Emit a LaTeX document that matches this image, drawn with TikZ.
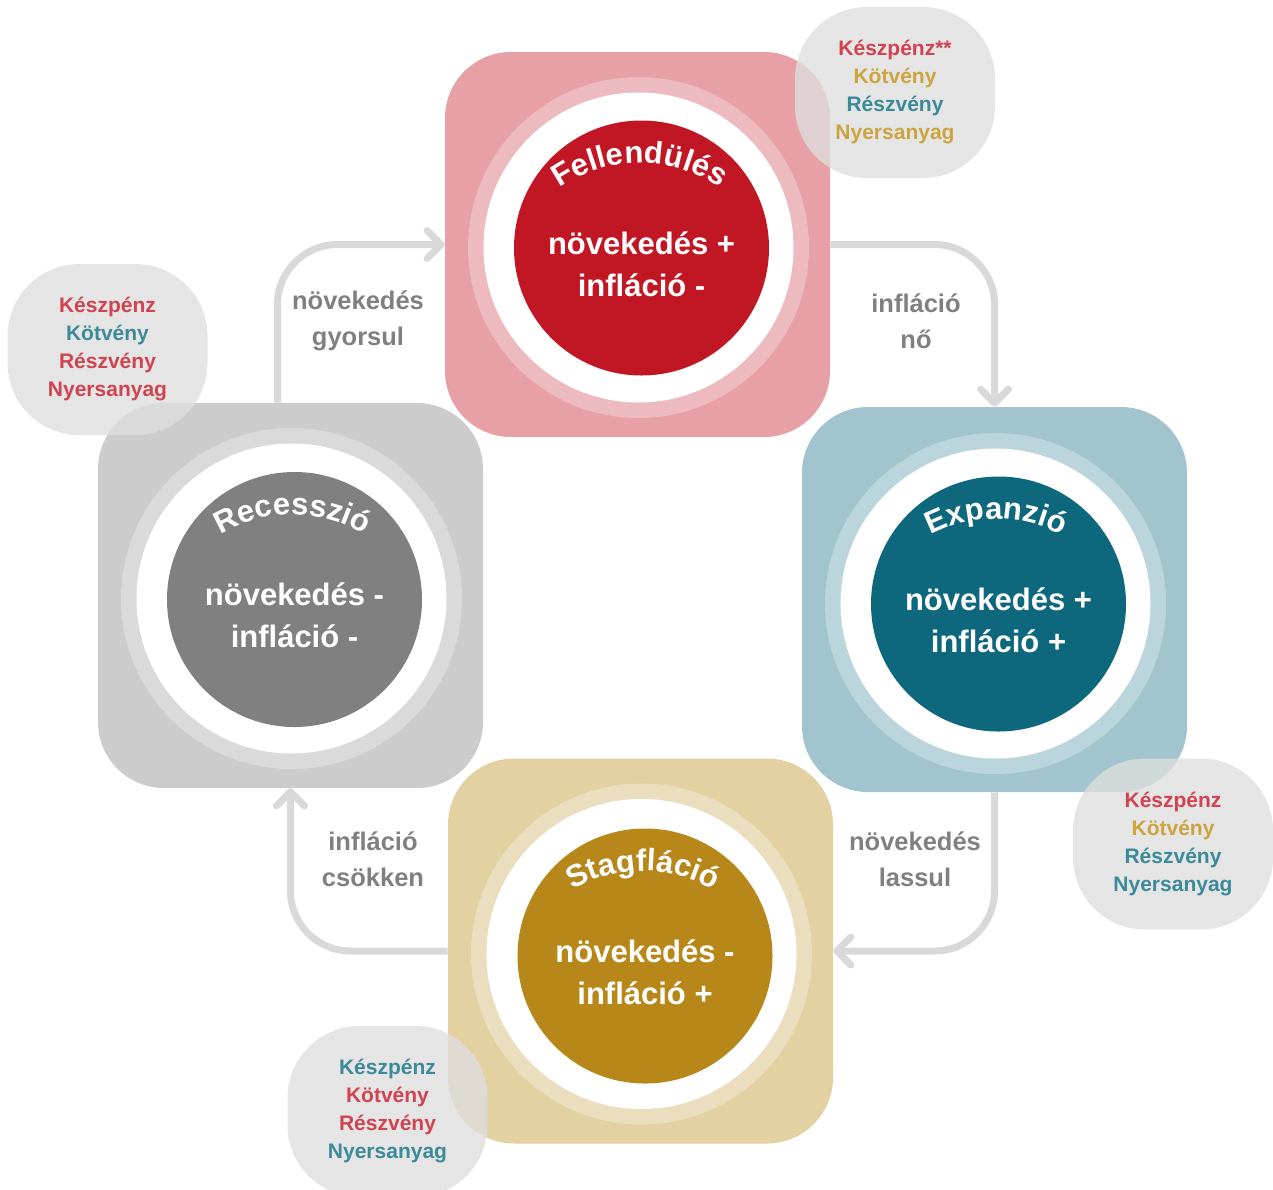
\documentclass[tikz,border=0pt]{standalone}
\usepackage{fontspec}
\setmainfont{Liberation Sans}
\usetikzlibrary{positioning, arrows.meta, decorations.text, calc}

\definecolor{FelDark}{RGB}{193,22,36}
\definecolor{FelLight}{RGB}{230,160,166}
\definecolor{FelRing}{RGB}{237,187,191}
\definecolor{ExpDark}{RGB}{14,104,125}
\definecolor{ExpLight}{RGB}{161,196,206}
\definecolor{ExpRing}{RGB}{187,213,220}
\definecolor{RecDark}{RGB}{128,128,128}
\definecolor{RecLight}{RGB}{204,204,204}
\definecolor{RecRing}{RGB}{218,218,218}
\definecolor{StaDark}{RGB}{183,136,25}
\definecolor{StaLight}{RGB}{227,209,162}
\definecolor{StaRing}{RGB}{234,222,191}
\definecolor{BlobGray}{RGB}{222,222,222}
\definecolor{ArrowGray}{RGB}{217,217,217}
\definecolor{LabelGray}{RGB}{128,128,128}
\definecolor{AssetRed}{RGB}{208,67,80}
\definecolor{AssetGold}{RGB}{204,164,62}
\definecolor{AssetTeal}{RGB}{58,138,152}

\newcommand{\corefont}{\fontsize{15.5pt}{21pt}\selectfont\bfseries}
\newcommand{\titlefont}{\fontsize{15.5pt}{18pt}\selectfont\bfseries}
\newcommand{\flowfont}{\fontsize{12.75pt}{18pt}\selectfont\bfseries}
\newcommand{\assetfont}{\fontsize{10.5pt}{14pt}\selectfont\bfseries}

\tikzset{
  phase box/.style={rectangle, rounded corners=33pt, minimum size=192.5pt, inner sep=0pt},
  halo/.style={circle, minimum size=170.5pt, inner sep=0pt},
  gap/.style={circle, fill=white, minimum size=155pt, inner sep=0pt},
  core/.style={circle, minimum size=127.5pt, inner sep=0pt},
  core text/.style={text=white, font=\corefont, align=center},
  flow/.style={line width=3.5pt, draw=ArrowGray, rounded corners=30pt, -{Straight Barb[length=7pt, width=14pt, round]}},
  flow label/.style={text=LabelGray, font=\flowfont, align=center},
  asset blob/.style={rectangle, rounded corners=36pt, fill=BlobGray, fill opacity=0.8, text opacity=1,
    minimum width=100pt, minimum height=85.5pt, inner sep=0pt, align=center, font=\assetfont},
  phase title/.style={decorate, decoration={text along path, text align=center, text color=white}}
}

\begin{document}
\begin{tikzpicture}[x=0.5pt, y=-0.5pt]
  \useasboundingbox (0,0) rectangle (1273,1189);

  % Fellendulés (top)
  \node[phase box, fill=FelLight] (fel) at (637.5,244.5) {};
  \node[halo, fill=FelRing] (fel-ring) at (638.5,247.5) {};
  \node[gap] (fel-gap) at (638.5,247.5) {};
  \node[core, fill=FelDark] (fel-core) at (641.5,248) {};
  \node[core text] (fel-txt) at ([yshift=-8pt]fel-core.center) {növekedés +\\infláció -};
  \coordinate (fel-arc) at (639.5,303);
  \path[phase title, decoration={text={|\titlefont|Fellendülés}}]
    ($(fel-arc)+(150:70pt)$) arc[start angle=150, end angle=30, radius=70pt];

  % Expanzió (right)
  \node[phase box, fill=ExpLight] (exp) at (994.5,599.5) {};
  \node[halo, fill=ExpRing] (exp-ring) at (995.5,603.5) {};
  \node[gap] (exp-gap) at (995.5,603.5) {};
  \node[core, fill=ExpDark] (exp-core) at (998.5,604) {};
  \node[core text] (exp-txt) at ([yshift=-8pt]exp-core.center) {növekedés +\\infláció +};
  \coordinate (exp-arc) at (996.5,659);
  \path[phase title, decoration={text={|\titlefont|Expanzió}}]
    ($(exp-arc)+(150:70pt)$) arc[start angle=150, end angle=30, radius=70pt];

  % Recesszió (left)
  \node[phase box, fill=RecLight] (rec) at (290.5,595.5) {};
  \node[halo, fill=RecRing] (rec-ring) at (291.5,598.5) {};
  \node[gap] (rec-gap) at (291.5,598.5) {};
  \node[core, fill=RecDark] (rec-core) at (294.5,599.5) {};
  \node[core text] (rec-txt) at ([yshift=-8pt]rec-core.center) {növekedés -\\infláció -};
  \coordinate (rec-arc) at (292.5,654.5);
  \path[phase title, decoration={text={|\titlefont|Recesszió}}]
    ($(rec-arc)+(150:70pt)$) arc[start angle=150, end angle=30, radius=70pt];

  % Stagfláció (bottom)
  \node[phase box, fill=StaLight] (sta) at (640.5,951) {};
  \node[halo, fill=StaRing] (sta-ring) at (641.5,954) {};
  \node[gap] (sta-gap) at (641.5,954) {};
  \node[core, fill=StaDark] (sta-core) at (645,956) {};
  \node[core text] (sta-txt) at ([yshift=-8pt]sta-core.center) {növekedés -\\infláció +};
  \coordinate (sta-arc) at (643,1011);
  \path[phase title, decoration={text={|\titlefont|Stagfláció}}]
    ($(sta-arc)+(150:70pt)$) arc[start angle=150, end angle=30, radius=70pt];

  % cycle arrows
  \draw[flow] ([xshift=-6.5pt]rec.north) |- (fel.west);
  \draw[flow] (fel.east) -| (exp.north);
  \draw[flow] (exp.south) |- (sta.east);
  \draw[flow] (sta.west) -| (rec.south);

  \node[flow label] (up-lbl) at (358,321) {növekedés\\gyorsul};
  \node[flow label] (right-lbl) at (916,321) {infláció\\nő};
  \node[flow label] (down-lbl) at (915,859) {növekedés\\lassul};
  \node[flow label] (left-lbl) at (373,859) {infláció\\csökken};

  % asset rankings
  \node[asset blob] (fel-assets) at (895,92.5) {\textcolor{AssetRed}{Készpénz**}\\\textcolor{AssetGold}{Kötvény}\\\textcolor{AssetTeal}{Részvény}\\\textcolor{AssetGold}{Nyersanyag}};
  \node[asset blob] (rec-assets) at (107.5,349.5) {\textcolor{AssetRed}{Készpénz}\\\textcolor{AssetTeal}{Kötvény}\\\textcolor{AssetRed}{Részvény}\\\textcolor{AssetRed}{Nyersanyag}};
  \node[asset blob] (exp-assets) at (1173,844) {\textcolor{AssetRed}{Készpénz}\\\textcolor{AssetGold}{Kötvény}\\\textcolor{AssetTeal}{Részvény}\\\textcolor{AssetTeal}{Nyersanyag}};
  \node[asset blob] (sta-assets) at (387.5,1111.5) {\textcolor{AssetTeal}{Készpénz}\\\textcolor{AssetRed}{Kötvény}\\\textcolor{AssetRed}{Részvény}\\\textcolor{AssetTeal}{Nyersanyag}};
\end{tikzpicture}
\end{document}
